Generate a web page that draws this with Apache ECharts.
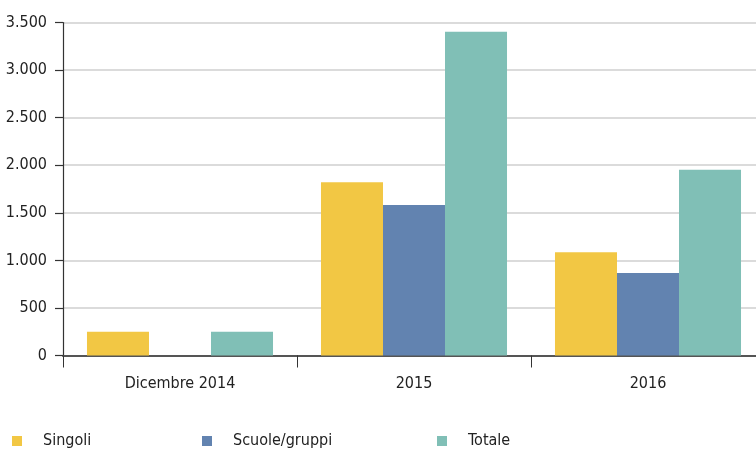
<!DOCTYPE html>
<html>
<head>
<meta charset="utf-8">
<script src="https://cdn.jsdelivr.net/npm/echarts@6/dist/echarts.min.js"></script>
<style>
  html, body { margin: 0; padding: 0; background: #fff; width: 756px; height: 451px; overflow: hidden; }
  /* the plot area runs a little past the right edge of the page */
  #chart { width: 765px; height: 451px; }
</style>
</head>
<body>
<div id="chart"></div>
<script>
// Visitors by period
const categories = ['Dicembre 2014', '2015', '2016'];
const singoli = [250, 1820, 1085];
const scuoleGruppi = [null, 1582, 867];
const totale = [250, 3402, 1952];
const yTicks = [0, 500, 1000, 1500, 2000, 2500, 3000, 3500];

const FONT = '"Liberation Sans Narrow", "DejaVu Sans Condensed", sans-serif';
const TEXT = '#222';
const FS = 16;

function fmt(v) {
  return String(v).replace(/\B(?=(\d{3})+(?!\d))/g, '.');
}

const chart = echarts.init(document.getElementById('chart'), null, { renderer: 'canvas' });

function legendAt(name, left) {
  return {
    data: [name],
    left: left,
    top: 433,
    padding: 0,
    icon: 'rect',
    itemWidth: 10,
    itemHeight: 10,
    itemGap: 0,
    textStyle: { fontFamily: FONT, fontSize: FS, color: TEXT, padding: [0, 0, 0, 16] }
  };
}

chart.setOption({
  animation: false,
  color: ['#F2C744', '#6283B0', '#80BFB6'],
  legend: [
    legendAt('Singoli', 12),
    legendAt('Scuole/gruppi', 202),
    legendAt('Totale', 437)
  ],
  grid: { left: 63, right: 0, top: 22.5, height: 333 },
  xAxis: {
    type: 'category',
    data: categories,
    axisLine: { lineStyle: { color: '#555', width: 2 } },
    axisTick: { show: true, length: 12, lineStyle: { color: '#333', width: 1 } },
    axisLabel: { fontFamily: FONT, fontSize: FS, color: TEXT, margin: 20 }
  },
  yAxis: {
    type: 'value',
    min: yTicks[0],
    max: yTicks[yTicks.length - 1],
    interval: 500,
    axisLine: { show: true, lineStyle: { color: '#333', width: 1.2 } },
    axisTick: { show: true, length: 8, lineStyle: { color: '#333', width: 1.2 } },
    axisLabel: { fontFamily: FONT, fontSize: FS, color: TEXT, margin: 16, formatter: fmt },
    splitLine: { lineStyle: { color: '#cfcfcf', width: 1.5 } }
  },
  series: [
    { name: 'Singoli', type: 'bar', data: singoli, barGap: 0, barCategoryGap: '20.5%' },
    { name: 'Scuole/gruppi', type: 'bar', data: scuoleGruppi, barGap: 0, barCategoryGap: '20.5%' },
    { name: 'Totale', type: 'bar', data: totale, barGap: 0, barCategoryGap: '20.5%' }
  ]
});
</script>
</body>
</html>
